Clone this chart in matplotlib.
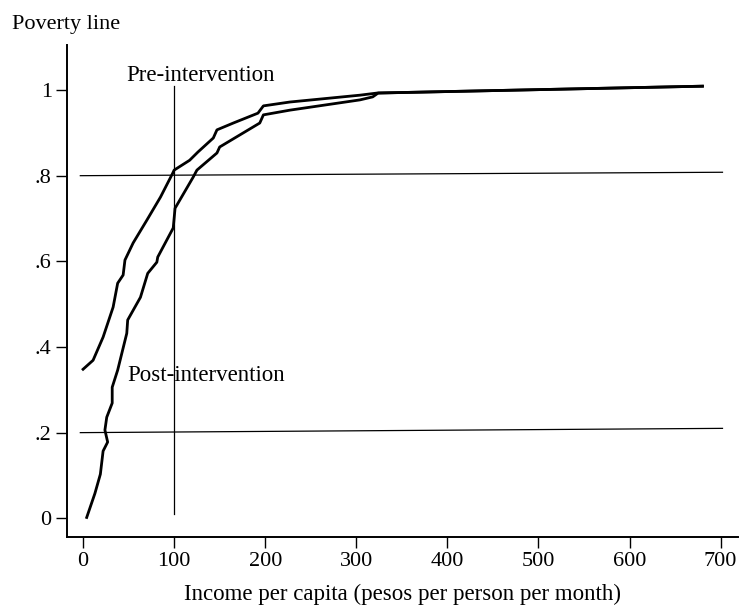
import matplotlib
matplotlib.use("Agg")
import matplotlib.pyplot as plt

plt.rcParams['font.family'] = ['Liberation Serif', 'DejaVu Serif']

# Pre-intervention cumulative distribution (income, share)
pre_x = [0, 11, 22, 33, 38, 44, 46, 55, 70, 85, 98, 100, 117, 126, 143, 147, 165, 192, 198, 227, 304, 323, 680]
pre_y = [0.348, 0.369, 0.423, 0.493, 0.549, 0.568, 0.603, 0.643, 0.696, 0.750, 0.804, 0.813, 0.836, 0.855,
         0.888, 0.907, 0.923, 0.946, 0.963, 0.972, 0.988, 0.993, 1.009]

# Post-intervention cumulative distribution
post_x = [4, 13, 19, 22, 27, 24, 26, 32, 32, 38, 48, 49, 63, 71, 81, 82, 99, 101, 121, 125, 147, 150,
          172, 194, 198, 227, 304, 318, 324, 680]
post_y = [0.002, 0.058, 0.103, 0.157, 0.178, 0.206, 0.236, 0.269, 0.306, 0.346, 0.432, 0.463, 0.516,
          0.572, 0.598, 0.610, 0.678, 0.724, 0.797, 0.813, 0.853, 0.867, 0.895, 0.923, 0.942, 0.953,
          0.977, 0.984, 0.993, 1.009]

# Reference lines
hline_x = [-3, 702]
hline_hi = [0.800, 0.808]
hline_lo = [0.200, 0.210]
vline_x = [100, 100]
vline_y = [0.01, 1.01]

xticks = [0, 100, 200, 300, 400, 500, 600, 700]
yticks = [0, 0.2, 0.4, 0.6, 0.8, 1.0]
ytick_labels = ['0', '.2', '.4', '.6', '.8', '1']

fig = plt.figure(figsize=(7.39, 6.09), dpi=100)
ax = fig.add_axes([0.0907, 0.118, 0.9079, 0.808])

ax.plot(hline_x, hline_hi, color='black', lw=0.9)
ax.plot(hline_x, hline_lo, color='black', lw=0.9)
ax.plot(vline_x, vline_y, color='black', lw=0.9)
ax.plot(pre_x, pre_y, color='black', lw=2.0, solid_joinstyle='round')
ax.plot(post_x, post_y, color='black', lw=2.0, solid_joinstyle='round')

ax.text(48, 1.035, 'Pre-intervention', fontsize=16.5, ha='left', va='center')
ax.text(49, 0.334, 'Post-intervention', fontsize=16.5, ha='left', va='center')

ax.set_xlim(-17.6, 719)
ax.set_ylim(-0.044, 1.105)
ax.set_xticks(xticks)
ax.set_xticklabels([str(t) for t in xticks])
ax.set_yticks(yticks)
ax.set_yticklabels(ytick_labels)
ax.tick_params(axis='both', direction='out', length=8, width=1.0, labelsize=16, pad=3)

for s in ['top', 'right']:
    ax.spines[s].set_visible(False)
for s in ['left', 'bottom']:
    ax.spines[s].set_linewidth(1.4)

ax.set_xlabel('Income per capita (pesos per person per month)', fontsize=16.5, labelpad=9)
fig.text(12 / 739, 1 - 24 / 609, 'Poverty line', fontsize=16, ha='left', va='center')

fig.savefig('out.png', dpi=100)
